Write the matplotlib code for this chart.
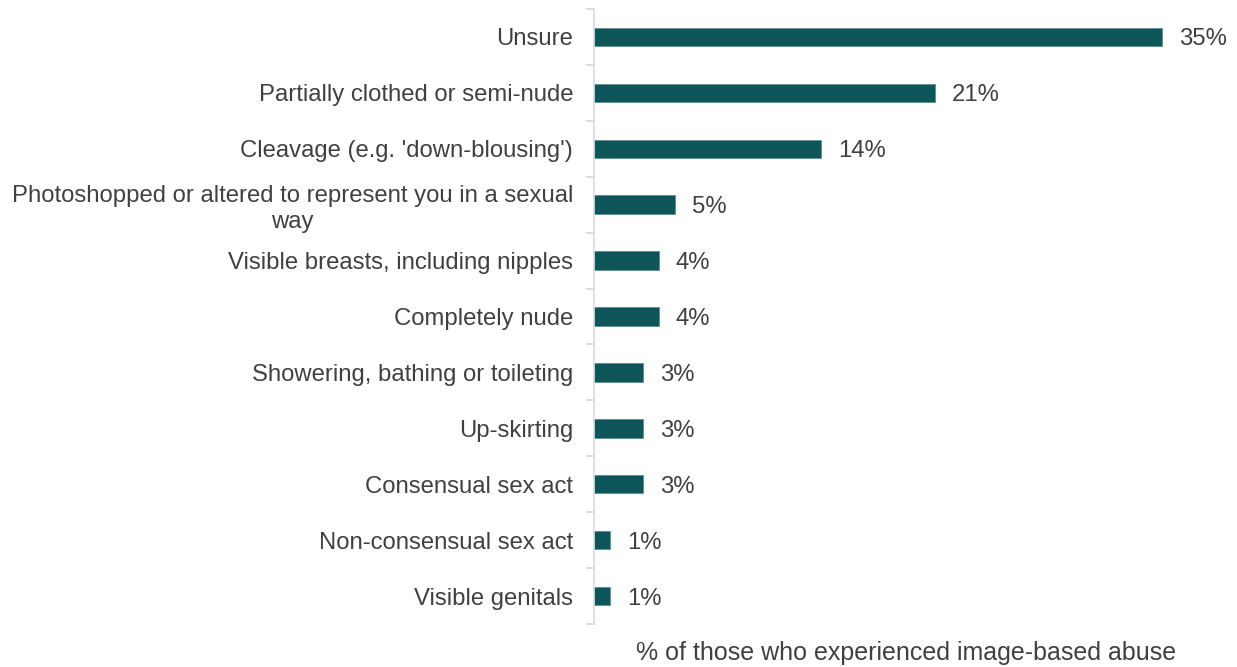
import matplotlib.pyplot as plt
import numpy as np

plt.rcParams['font.family'] = ['Liberation Sans', 'DejaVu Sans']

categories = [
    "Unsure",
    "Partially clothed or semi-nude",
    "Cleavage (e.g. 'down-blousing')",
    "Photoshopped or altered to represent you in a sexual\nway",
    "Visible breasts, including nipples",
    "Completely nude",
    "Showering, bathing or toileting",
    "Up-skirting",
    "Consensual sex act",
    "Non-consensual sex act",
    "Visible genitals",
]
values = [35, 21, 14, 5, 4, 4, 3, 3, 3, 1, 1]

W, H = 1237, 667
fig = plt.figure(figsize=(W / 100, H / 100), dpi=100)
ax = fig.add_axes([594 / W, 1 - 624 / H, (W - 594) / W, (624 - 9) / H])

bar_col = "#0d5659"
text_col = "#404040"
fs = 17.2
y = np.arange(len(categories))
ax.barh(y, values, height=0.33, color=bar_col, edgecolor="#5f8f90", linewidth=0.6)

px_per_pct = 16.23
ax.set_xlim(0, (W - 594) / px_per_pct)
ax.set_ylim(len(categories) - 0.5, -0.5)

# value labels just right of each bar
for yi, v in zip(y, values):
    ax.text(v + 17 / px_per_pct, yi, f"{v}%", va="center_baseline", ha="left",
            fontsize=fs, color=text_col)

ax.set_yticks(y)
ax.set_yticklabels(categories, fontsize=fs, color=text_col,
                   ha="right", multialignment="center")
ax.tick_params(axis="y", which="major", length=0, pad=15)
ax.set_yticks(np.arange(-0.5, len(categories)), minor=True)
ax.tick_params(axis="y", which="minor", length=6, color="#d9d9d9", width=1.2)
ax.set_xticks([])

for s in ["top", "right", "bottom"]:
    ax.spines[s].set_visible(False)
ax.spines["left"].set_color("#d9d9d9")
ax.spines["left"].set_linewidth(1.2)

fig.text(906 / W, 1 - 653 / H, "% of those who experienced image-based abuse",
         ha="center", va="center", fontsize=18, color=text_col)

fig.savefig("out.png", dpi=100)
